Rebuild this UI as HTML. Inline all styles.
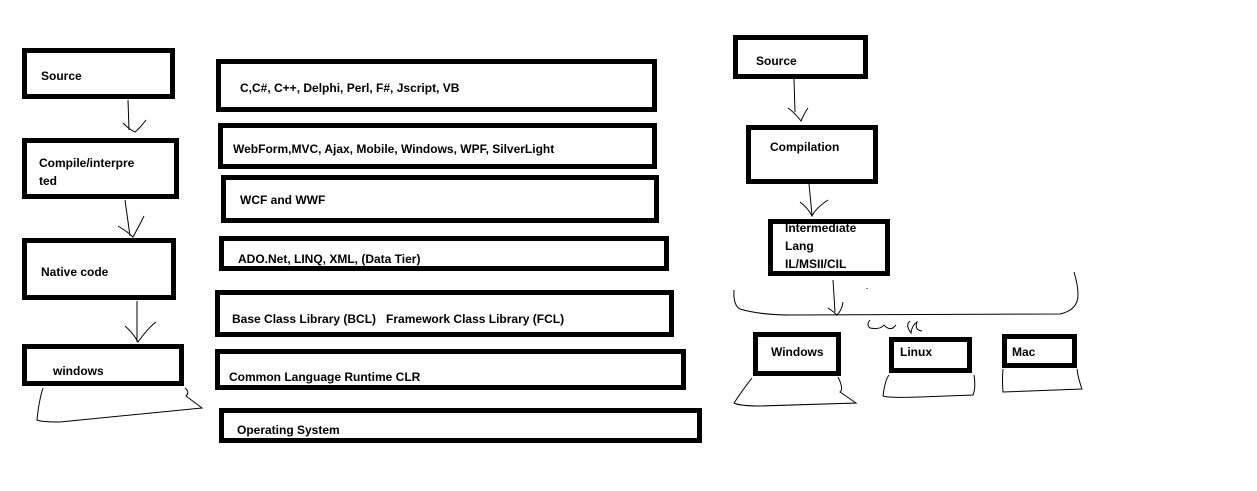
<!DOCTYPE html>
<html><head><meta charset="utf-8"><style>
html,body{margin:0;padding:0;background:#fff;}
svg{display:block}
text{font-family:"Liberation Sans",sans-serif;font-size:12px;font-weight:bold;fill:#000}
rect{fill:none;stroke:#000;stroke-width:5}
path{fill:none;stroke:#000;stroke-width:1}
</style></head><body>
<svg width="1257" height="491" viewBox="0 0 1257 491">
<!-- left column -->
<rect x="24.5" y="50.5" width="148" height="46"/>
<text x="41" y="80">Source</text>
<path d="M128 100 L129 130 M123 123 Q130 130 135 132 Q140 128 146 120"/>
<rect x="24.5" y="140.5" width="152" height="56"/>
<text x="39" y="167">Compile/interpre</text>
<text x="39" y="185">ted</text>
<path d="M125 200 L130 236 M118 226 Q128 232 133 237 Q138 228 144 216"/>
<rect x="24.5" y="240.5" width="149" height="57"/>
<text x="41" y="276">Native code</text>
<path d="M137 301 L137 342 M125 326 Q133 333 138 342 Q148 328 156 322"/>
<rect x="24.5" y="346.5" width="157" height="37"/>
<text x="53" y="375">windows</text>
<path d="M43 388 Q39 400 37 420 Q42 422 60 422 Q100 418 202 408 L186 396 Q190 392 185 388"/>
<!-- middle column -->
<rect x="218.5" y="61.5" width="436" height="48"/>
<text x="240" y="92">C,C#, C++, Delphi, Perl, F#, Jscript, VB</text>
<rect x="220.5" y="125.5" width="434" height="41"/>
<text x="233" y="153">WebForm,MVC, Ajax, Mobile, Windows, WPF, SilverLight</text>
<rect x="223.5" y="177.5" width="433" height="43"/>
<text x="240" y="204">WCF and WWF</text>
<rect x="221.5" y="238.5" width="445" height="30"/>
<text x="238" y="263">ADO.Net, LINQ, XML, (Data Tier)</text>
<rect x="217.5" y="292.5" width="454" height="42"/>
<text x="232" y="323">Base Class Library (BCL)&#160;&#160;&#160;Framework Class Library (FCL)</text>
<rect x="217.5" y="351.5" width="466" height="36"/>
<text x="229" y="381">Common Language Runtime CLR</text>
<rect x="221.5" y="410.5" width="478" height="30"/>
<text x="237" y="434">Operating System</text>
<!-- right column -->
<rect x="735.5" y="37.5" width="130" height="39"/>
<text x="756" y="65">Source</text>
<path d="M794 79 L795 112 M788 108 Q794 112 801 121 Q805 112 808 108"/>
<rect x="748.5" y="127.5" width="127" height="54"/>
<text x="770" y="151">Compilation</text>
<path d="M809 184 L812 215 M800 202 Q808 208 812 216 Q816 208 828 200"/>
<rect x="770.5" y="221.5" width="117" height="52"/>
<text x="785" y="232">Intermediate</text>
<text x="785" y="250">Lang</text>
<text x="785" y="268">IL/MSII/CIL</text>
<path d="M833 280 L835 312 M828 308 Q834 312 837 315 Q842 310 843 302"/>
<path d="M734 290 Q733 305 740 309 Q760 315 790 315 L1060 314 Q1078 310 1078 295 Q1078 285 1074 272"/>
<path d="M870 320 Q866 325 870 328 Q880 330 884 325 Q888 330 893 328 L896 325 M910 321 Q905 325 911 333 Q912 325 917 322 Q914 330 922 331"/>
<path d="M867 288 L867 289"/>
<rect x="755.5" y="334.5" width="83" height="39"/>
<text x="771" y="356">Windows</text>
<path d="M752 378 Q744 388 734 403 Q740 406 760 406 L856 403 L840 392 Q844 389 838 377"/>
<rect x="891.5" y="339.5" width="78" height="31"/>
<text x="900" y="356">Linux</text>
<path d="M889 375 Q885 380 883 396 Q888 398 920 397 L973 395 Q976 388 974 375"/>
<rect x="1004.5" y="336.5" width="70" height="29"/>
<text x="1012" y="356">Mac</text>
<path d="M1003 369 Q1002 380 1003 392 L1082 389 Q1078 378 1077 369"/>
</svg>
</body></html>
